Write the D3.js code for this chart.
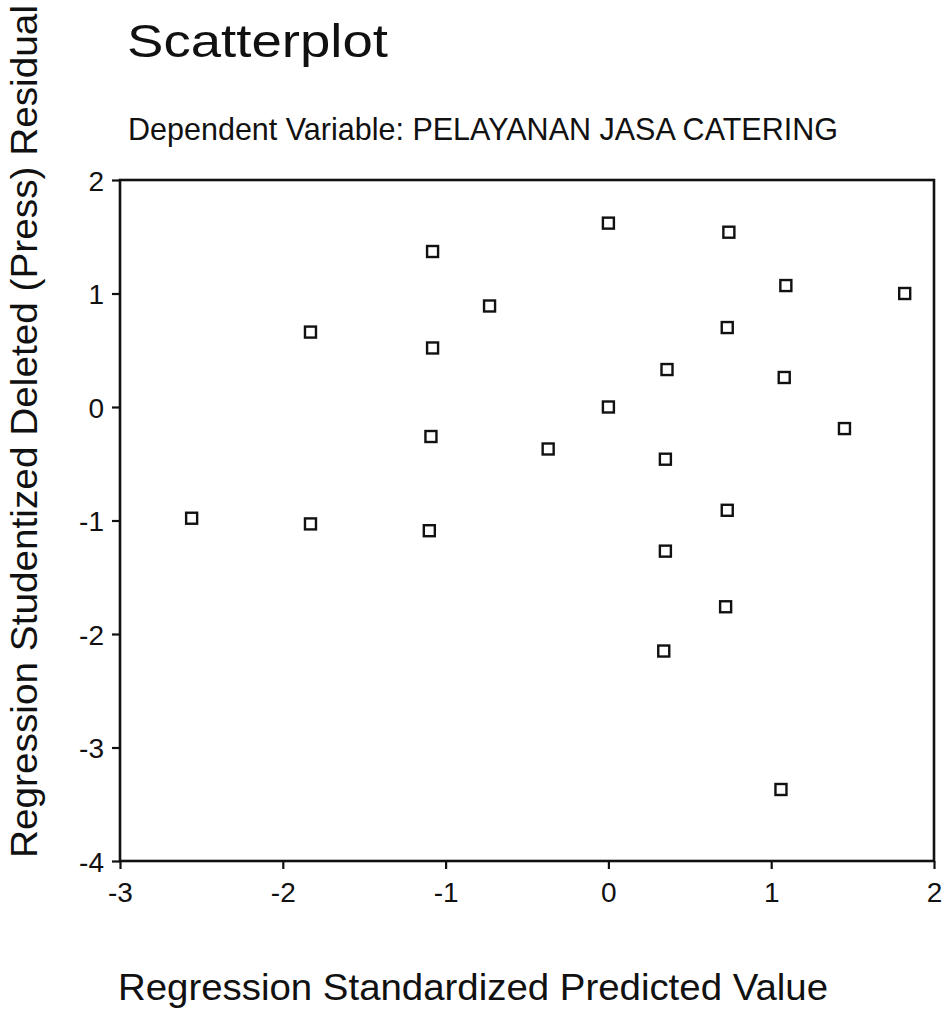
<!DOCTYPE html>
<html><head><meta charset="utf-8">
<script src="https://cdn.jsdelivr.net/npm/d3@7/dist/d3.min.js"></script>
<style>html,body{margin:0;padding:0;background:#fff;}text{font-family:"Liberation Sans",Arial,sans-serif;fill:#111;}</style>
</head><body>
<svg id="chart" width="948" height="1015"></svg>
<script>
const predicted = [-2.56,-1.83,-1.83,-1.08,-1.08,-1.09,-1.10,-0.73,-0.37,0.00,0.00,0.36,0.35,0.35,0.34,0.74,0.73,0.73,0.72,1.09,1.08,1.06,1.45,1.82];
const residual  = [-0.98,-1.03,0.66,1.37,0.52,-0.26,-1.09,0.89,-0.37,1.62,0.00,0.33,-0.46,-1.27,-2.15,1.54,0.70,-0.91,-1.76,1.07,0.26,-3.37,-0.19,1.00];
const xTicks = [-3,-2,-1,0,1,2];
const yTicks = [-4,-3,-2,-1,0,1,2];
const titleText = "Scatterplot";
const subtitleText = "Dependent Variable: PELAYANAN JASA CATERING";
const xLabel = "Regression Standardized Predicted Value";
const yLabel = "Regression Studentized Deleted (Press) Residual";

const svg = d3.select("#chart");
const L = 120, R = 934, T = 180, B = 861;
const x = d3.scaleLinear().domain([-3,2]).range([L,R]);
const y = d3.scaleLinear().domain([-4,2]).range([B,T]);

svg.append("text").attr("x",127).attr("y",57).attr("font-size",47)
  .attr("textLength",261).attr("lengthAdjust","spacingAndGlyphs").text(titleText);
svg.append("text").attr("x",128).attr("y",140).attr("font-size",32)
  .attr("textLength",710).attr("lengthAdjust","spacingAndGlyphs").text(subtitleText);

// frame
svg.append("rect").attr("x",L).attr("y",T).attr("width",R-L).attr("height",B-T)
  .attr("fill","none").attr("stroke","#111").attr("stroke-width",2.6);

const xAxis = svg.append("g").attr("transform",`translate(0,${B})`)
  .call(d3.axisBottom(x).tickValues(xTicks).tickSize(8).tickSizeOuter(0).tickFormat(d3.format("d")));
const yAxis = svg.append("g").attr("transform",`translate(${L},0)`)
  .call(d3.axisLeft(y).tickValues(yTicks).tickSize(8).tickSizeOuter(0).tickFormat(d3.format("d")));
[xAxis,yAxis].forEach(g=>{
  g.select(".domain").remove();
  g.selectAll(".tick line").attr("stroke","#111").attr("stroke-width",2.2);
  g.selectAll(".tick text").attr("font-size",28).attr("font-family","Liberation Sans, Arial, sans-serif").attr("fill","#111");
});
xAxis.selectAll(".tick text").attr("dy",null).attr("y",41).text(d=>String(d));
yAxis.selectAll(".tick text").attr("x",-16).attr("dy","0.36em").text(d=>String(d));

svg.append("text").attr("x",118).attr("y",1000).attr("font-size",37)
  .attr("textLength",710).attr("lengthAdjust","spacingAndGlyphs").text(xLabel);
svg.append("text").attr("transform","translate(37,858) rotate(-90)").attr("font-size",37)
  .attr("textLength",853).attr("lengthAdjust","spacingAndGlyphs").text(yLabel);

const s = 11;
svg.append("g").selectAll("rect").data(predicted.map((p,i)=>[p,residual[i]])).join("rect")
  .attr("x",d=>x(d[0])-s/2).attr("y",d=>y(d[1])-s/2).attr("width",s).attr("height",s)
  .attr("fill","#fff").attr("stroke","#111").attr("stroke-width",2.4);
</script>
</body></html>
